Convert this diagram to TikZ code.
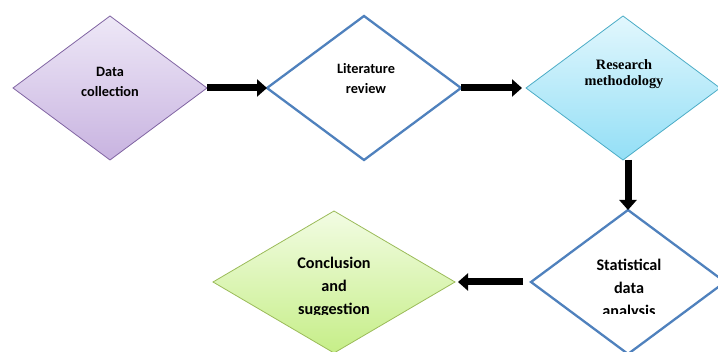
\documentclass[tikz,border=0pt]{standalone}
\usepackage{fontspec}
\setmainfont{Carlito}
\newfontfamily\serifbold{Liberation Serif}
\usetikzlibrary{shapes.geometric,arrows.meta}
\definecolor{purpleB}{HTML}{8064A2}
\definecolor{purpleT}{HTML}{EEE8F7}
\definecolor{purpleD}{HTML}{C8B3E0}
\definecolor{cyanB}{HTML}{4BACC6}
\definecolor{cyanT}{HTML}{E2F7FD}
\definecolor{cyanD}{HTML}{93DFF6}
\definecolor{greenB}{HTML}{9BBB59}
\definecolor{greenT}{HTML}{F2FCE3}
\definecolor{greenD}{HTML}{C6EE88}
\definecolor{blueB}{HTML}{4F81BD}
\tikzset{
  dia/.style={shape=diamond, inner sep=0pt, outer sep=0pt,
    minimum width=194pt, minimum height=144pt},
  thinb/.style={line width=0.8pt},
  thickb/.style={line width=2.3pt, draw=blueB, fill=white},
  lbl/.style={font=\bfseries\fontsize{14.3}{20}\selectfont, align=center},
  lblbig/.style={font=\bfseries\fontsize{16.2}{23}\selectfont, align=center},
  bigarrow/.style={line width=7pt, -{Triangle[length=10pt,width=17pt]}},
}
\begin{document}
\begin{tikzpicture}[x=1pt,y=-1pt]
\useasboundingbox (0,0) rectangle (718,352);
\clip (0,0) rectangle (718,352);
% diamonds
\node[dia, thinb, draw=purpleB, top color=purpleT, bottom color=purpleD] (dc) at (110,88) {};
\node[dia, thickb] (lr) at (364,88) {};
\node[dia, thinb, draw=cyanB, top color=cyanT, bottom color=cyanD] (rm) at (623,88) {};
\node[dia, thickb] (sa) at (628,282) {};
\node[dia, thinb, draw=greenB, top color=greenT, bottom color=greenD, minimum width=242pt, minimum height=142pt] (cs) at (334,282) {};
% texts
\node[lbl] (tdc) at (110,82) {Data\\collection};
\node[lbl] (tlr) at (366,79) {Literature\\review};
\node[font=\serifbold\bfseries\fontsize{14.3}{16}\selectfont, align=center] (trm) at (624,74) {Research\\methodology};
\begin{scope}
\clip (500,200) rectangle (718,314);
\node[lblbig] (tsa) at (629,289) {Statistical\\data\\analysis};
\end{scope}
\begin{scope}
\clip (200,200) rectangle (500,315);
\node[lblbig] (tcs) at (334,287) {Conclusion\\and\\suggestion};
\end{scope}
% arrows
\draw[bigarrow] (dc.east) -- (lr.west);
\draw[bigarrow] (lr.east) -- ([xshift=-4pt]rm.west);
\draw[bigarrow] (sa.north |- rm.south) -- (sa.north);
\draw[bigarrow, shorten <=8pt, shorten >=3pt] (sa.west) -- (cs.east);
\end{tikzpicture}
\end{document}
